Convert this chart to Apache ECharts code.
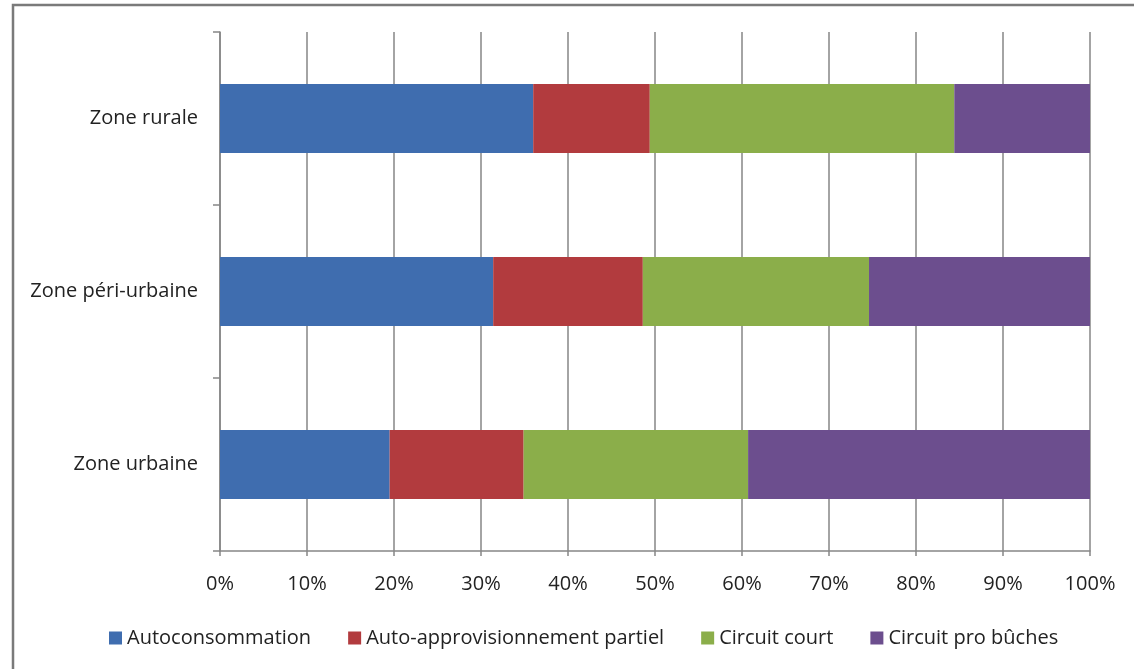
<!DOCTYPE html>
<html>
<head>
<meta charset="utf-8">
<script src="https://cdn.jsdelivr.net/npm/echarts@6/dist/echarts.min.js"></script>
<style>
html,body{margin:0;padding:0;background:#fff;}
#c{width:1134px;height:669px;}
</style>
</head>
<body>
<div id="c"></div>
<script>
const categories = ['Zone urbaine', 'Zone péri-urbaine', 'Zone rurale'];
const seriesNames = ['Autoconsommation', 'Auto-approvisionnement partiel', 'Circuit court', 'Circuit pro bûches'];
const autoconsommation = [19.5, 31.4, 36.0];
const autoApprovisionnement = [15.4, 17.2, 13.4];
const circuitCourt = [25.8, 26.0, 35.0];
const circuitPro = [39.3, 25.4, 15.6];
const xTicks = [0, 10, 20, 30, 40, 50, 60, 70, 80, 90, 100];
const colors = ['#3f6daf', '#b23b3e', '#8bae4a', '#6c4e8e'];

const values = [autoconsommation, autoApprovisionnement, circuitCourt, circuitPro];
const font = 'Open Sans';
const axisGrey = '#868686';

const chart = echarts.init(document.getElementById('c'), null, {renderer: 'canvas'});
chart.setOption({
  animation: false,
  backgroundColor: '#fff',
  color: colors,
  graphic: [{
    type: 'rect',
    shape: {x: 13, y: 5, width: 1200, height: 700},
    style: {fill: 'none', stroke: '#7a7a7a', lineWidth: 2.5},
    silent: true,
    z: -10
  }],
  grid: {left: 220, right: 44, top: 32, bottom: 118, containLabel: false},
  legend: {
    left: 104,
    top: 623,
    itemWidth: 13,
    itemHeight: 13,
    itemGap: 37,
    icon: 'rect',
    textStyle: {fontFamily: font, fontSize: 20, color: '#222', padding: [0, 0, 0, 0]},
    data: seriesNames
  },
  xAxis: {
    type: 'value',
    min: xTicks[0],
    max: xTicks[xTicks.length - 1],
    interval: 10,
    axisLine: {show: true, lineStyle: {color: axisGrey, width: 1.5}},
    axisTick: {show: true, length: 5, lineStyle: {color: axisGrey, width: 1.5}},
    splitLine: {show: true, lineStyle: {color: axisGrey, width: 1.5}},
    axisLabel: {fontFamily: font, fontSize: 20, color: '#222', margin: 23, formatter: '{value}%'}
  },
  yAxis: {
    type: 'category',
    data: categories,
    axisLine: {show: true, lineStyle: {color: axisGrey, width: 1.5}},
    axisTick: {show: true, length: 7, lineStyle: {color: axisGrey, width: 1.5}},
    axisLabel: {fontFamily: font, fontSize: 20, color: '#222', margin: 22}
  },
  series: seriesNames.map((name, i) => ({
    name: name,
    type: 'bar',
    stack: 'total',
    barWidth: 69,
    data: values[i],
    itemStyle: {color: colors[i]}
  }))
});
</script>
</body>
</html>
